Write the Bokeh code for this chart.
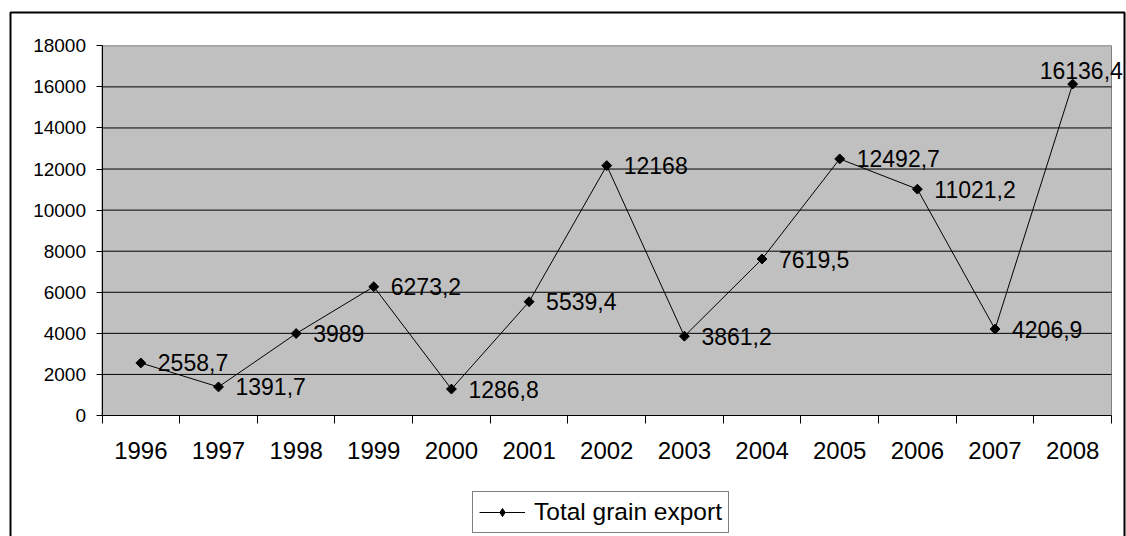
import numpy as np
from bokeh.plotting import figure
from bokeh.models import (Range1d, LinearAxis, FixedTicker,
                          ColumnDataSource, Legend, LegendItem)
from bokeh.core.properties import value
from bokeh.embed import file_html
from bokeh.resources import INLINE

# ---- data ----
years = ["1996", "1997", "1998", "1999", "2000", "2001", "2002",
         "2003", "2004", "2005", "2006", "2007", "2008"]
grain_export = [2558.7, 1391.7, 3989, 6273.2, 1286.8, 5539.4, 12168,
                3861.2, 7619.5, 12492.7, 11021.2, 4206.9, 16136.4]
series_name = "Total grain export"
y_ticks = [0, 2000, 4000, 6000, 8000, 10000, 12000, 14000, 16000, 18000]

FONT = "Liberation Sans"
W, H = 1126, 536

# ---- layout (pixels) ----
AL, AR, AT, AB = 101.5, 1111.0, 45.3, 415.0  # grey plot area edges
BL, BR, BT, BB = 10, 1124, 12, 560           # outer chart border (bottom off-page)

n = len(years)
x_pos = [i + 0.5 for i in range(n)]          # category centres
x_bounds = list(range(n + 1))                 # category boundaries
y_lo, y_hi = y_ticks[0], y_ticks[-1]

kx = n / (AR - AL)
ky = (y_hi - y_lo) / (AB - AT)


def px_x(sx):
    return (sx - AL) * kx


def px_y(sy):
    return y_lo + (AB - sy) * ky


labels = [f"{v:g}".replace(".", ",") for v in grain_export]
x_off = [17] * n
y_off = [0] * n
x_off[-1] = -33
y_off[-1] = -14

src = ColumnDataSource(dict(x=x_pos, year=years, val=grain_export, label=labels,
                            xo=x_off, yo=y_off))

p = figure(width=W, height=H,
           x_range=Range1d(px_x(0), px_x(W)),
           y_range=Range1d(px_y(H), px_y(0)),
           output_backend="svg", toolbar_location=None,
           x_axis_type=None, y_axis_type=None,
           min_border_left=0, min_border_right=0,
           min_border_top=0, min_border_bottom=0)
p.background_fill_color = "white"
p.border_fill_color = "white"
p.outline_line_color = None
p.xgrid.visible = False
p.ygrid.visible = False

# outer chart border
p.line(x=[px_x(BL), px_x(BL), px_x(BR), px_x(BR)],
       y=[px_y(BB), px_y(BT), px_y(BT), px_y(BB)],
       line_color="black", line_width=2)

# grey plotting area
p.quad(left=[0], right=[n], bottom=[y_lo], top=[y_hi],
       fill_color="#C0C0C0", line_color="#808080", line_width=1)

# horizontal gridlines
grid_y = y_ticks[1:-1]
p.segment(x0=[0] * len(grid_y), x1=[n] * len(grid_y), y0=grid_y, y1=grid_y,
          line_color="black", line_width=1)

# y axis
yax = LinearAxis(fixed_location=0, bounds=(y_lo, y_hi),
                 ticker=FixedTicker(ticks=y_ticks, minor_ticks=[]),
                 major_tick_out=6, major_tick_in=0, minor_tick_out=0, minor_tick_in=0,
                 major_label_standoff=10, major_label_text_font=FONT,
                 major_label_text_font_size="19px", major_label_text_color="black",
                 axis_line_color="black", major_tick_line_color="black")
p.add_layout(yax, "left")

# x axis: labels at category centres, tick marks at category boundaries (minor ticks)
xax = LinearAxis(fixed_location=0, bounds=(0, n),
                 ticker=FixedTicker(ticks=x_pos, minor_ticks=x_bounds),
                 major_label_overrides={xp: yr for xp, yr in zip(x_pos, years)},
                 major_tick_out=0, major_tick_in=0, minor_tick_out=8, minor_tick_in=0,
                 axis_line_color="black", minor_tick_line_color="black",
                 major_label_standoff=18, major_label_text_font=FONT,
                 major_label_text_font_size="24px", major_label_text_color="black")
p.add_layout(xax, "below")

# series
r_line = p.line("x", "val", source=src, line_color="black", line_width=1)
r_pts = p.scatter("x", "val", source=src, marker="square", angle=np.pi / 4, size=7,
                  fill_color="black", line_color="black")
# diamond glyph used only for the legend symbol
r_leg = p.scatter("x", "val", source=src, marker="diamond", size=12,
                  fill_color="black", line_color="black", visible=False)
p.text("x", "val", text="label", source=src, x_offset="xo", y_offset="yo",
       text_baseline="middle", text_align="left", text_font=value(FONT),
       text_font_size="23px", text_color="black")

legend = Legend(items=[LegendItem(label=series_name, renderers=[r_line, r_leg])],
                location=(472, H - 533), orientation="vertical",
                border_line_color="black", border_line_width=1,
                background_fill_color="white", background_fill_alpha=1,
                padding=6, spacing=0, margin=0, glyph_width=46, glyph_height=20,
                label_standoff=9, label_text_font=FONT, label_text_font_size="24.5px",
                label_text_color="black", label_height=20, click_policy="none")
p.add_layout(legend, "center")

open("out.html", "w").write(file_html(p, INLINE))
